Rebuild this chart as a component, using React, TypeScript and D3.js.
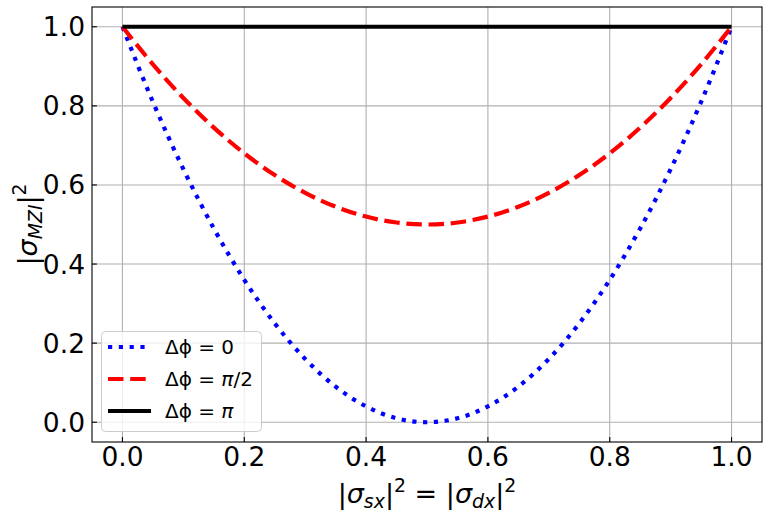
import * as d3 from 'd3';

const xs = [0, 0.05, 0.1, 0.15, 0.2, 0.25, 0.3, 0.35, 0.4, 0.45, 0.5, 0.55, 0.6, 0.65, 0.7, 0.75, 0.8, 0.85, 0.9, 0.95, 1.0];
const phi0 = [1.0, 0.81, 0.64, 0.49, 0.36, 0.25, 0.16, 0.09, 0.04, 0.01, 0.0, 0.01, 0.04, 0.09, 0.16, 0.25, 0.36, 0.49, 0.64, 0.81, 1.0];
const phiHalfPi = [1.0, 0.905, 0.82, 0.745, 0.68, 0.625, 0.58, 0.545, 0.52, 0.505, 0.5, 0.505, 0.52, 0.545, 0.58, 0.625, 0.68, 0.745, 0.82, 0.905, 1.0];
const phiPi = [1.0, 1.0, 1.0, 1.0, 1.0, 1.0, 1.0, 1.0, 1.0, 1.0, 1.0, 1.0, 1.0, 1.0, 1.0, 1.0, 1.0, 1.0, 1.0, 1.0, 1.0];
const tickValues = [0, 0.2, 0.4, 0.6, 0.8, 1.0];

const W = 768;
const H = 518;
const margin = { left: 92, right: 6, top: 7, bottom: 76 };
const FONT = '"DejaVu Sans", sans-serif';
const TICK_FS = 26.5;
const LABEL_FS = 27;

interface Series {
  key: string;
  values: number[];
  color: string;
  dash: string;
}

const series: Series[] = [
  { key: '0', values: phi0, color: '#0000ff', dash: '4.2 6.6' },
  { key: 'pi2', values: phiHalfPi, color: '#ff0000', dash: '15.5 6.7' },
  { key: 'pi', values: phiPi, color: '#000000', dash: '' },
];

export default function App() {
  const x = d3.scaleLinear().domain([-0.05, 1.05]).range([margin.left, W - margin.right]);
  const y = d3.scaleLinear().domain([-0.05, 1.05]).range([H - margin.bottom, margin.top]);

  const line = d3.line<number>()
    .x((_, i) => x(xs[i]))
    .y(d => y(d))
    .curve(d3.curveMonotoneX);

  const [x0, x1] = x.range();
  const [y0, y1] = y.range();
  const sub = LABEL_FS * 0.7;

  return (
    <svg width={W} height={H} style={{ position: 'absolute', left: 0, top: 0, background: '#fff' }} fontFamily={FONT}>
      {/* grid */}
      {tickValues.map(t => (
        <g key={`g${t}`} stroke="#b0b0b0" strokeWidth={1.1}>
          <line x1={x(t)} x2={x(t)} y1={y1} y2={y0} />
          <line x1={x0} x2={x1} y1={y(t)} y2={y(t)} />
        </g>
      ))}

      {/* series */}
      {series.map(s => (
        <path
          key={s.key}
          d={line(s.values) ?? ''}
          fill="none"
          stroke={s.color}
          strokeWidth={4.2}
          strokeDasharray={s.dash || undefined}
        />
      ))}

      {/* frame */}
      <rect x={x0} y={y1} width={x1 - x0} height={y0 - y1} fill="none" stroke="#000" strokeWidth={1.1} />

      {/* ticks, pointing inward */}
      {tickValues.map(t => (
        <g key={`t${t}`}>
          <line x1={x(t)} x2={x(t)} y1={y0} y2={y0 - 4.9} stroke="#000" strokeWidth={1.1} />
          <text x={x(t)} y={466} textAnchor="middle" fontSize={TICK_FS}>{t.toFixed(1)}</text>
          <line x1={x0} x2={x0 + 4.9} y1={y(t)} y2={y(t)} stroke="#000" strokeWidth={1.1} />
          <text x={85} y={y(t)} dy="0.36em" textAnchor="end" fontSize={TICK_FS}>{t.toFixed(1)}</text>
        </g>
      ))}

      {/* axis labels */}
      <text x={(x0 + x1) / 2} y={503} textAnchor="middle" fontSize={LABEL_FS}>
        |<tspan fontStyle="italic">σ</tspan>
        <tspan fontStyle="italic" fontSize={sub} dy={5}>sx</tspan>
        <tspan dy={-5}>|</tspan>
        <tspan fontSize={sub} dy={-11}>2</tspan>
        <tspan dy={11}> = |</tspan>
        <tspan fontStyle="italic">σ</tspan>
        <tspan fontStyle="italic" fontSize={sub} dy={5}>dx</tspan>
        <tspan dy={-5}>|</tspan>
        <tspan fontSize={sub} dy={-11}>2</tspan>
      </text>
      <text transform={`translate(37, ${(y0 + y1) / 2}) rotate(-90)`} textAnchor="middle" fontSize={LABEL_FS}>
        |<tspan fontStyle="italic">σ</tspan>
        <tspan fontStyle="italic" fontSize={sub} dy={5}>MZI</tspan>
        <tspan dy={-5}>|</tspan>
        <tspan fontSize={sub} dy={-11}>2</tspan>
      </text>

      {/* legend */}
      <g>
        <rect x={101.5} y={331.5} width={160} height={100} rx={4} fill="#fff" fillOpacity={0.8} stroke="#cccccc" strokeWidth={1} />
        {series.map((s, i) => {
          const ly = 347 + i * 32;
          return (
            <g key={`l${s.key}`}>
              <line x1={108} x2={151} y1={ly} y2={ly} stroke={s.color} strokeWidth={4.2}
                strokeDasharray={s.dash || undefined} />
              <text x={165} y={ly} dy="0.36em" fontSize={20}>
                Δϕ = {i === 0 ? '0' : i === 1 ? (<><tspan fontStyle="italic">π</tspan>/2</>) : <tspan fontStyle="italic">π</tspan>}
              </text>
            </g>
          );
        })}
      </g>
    </svg>
  );
}
